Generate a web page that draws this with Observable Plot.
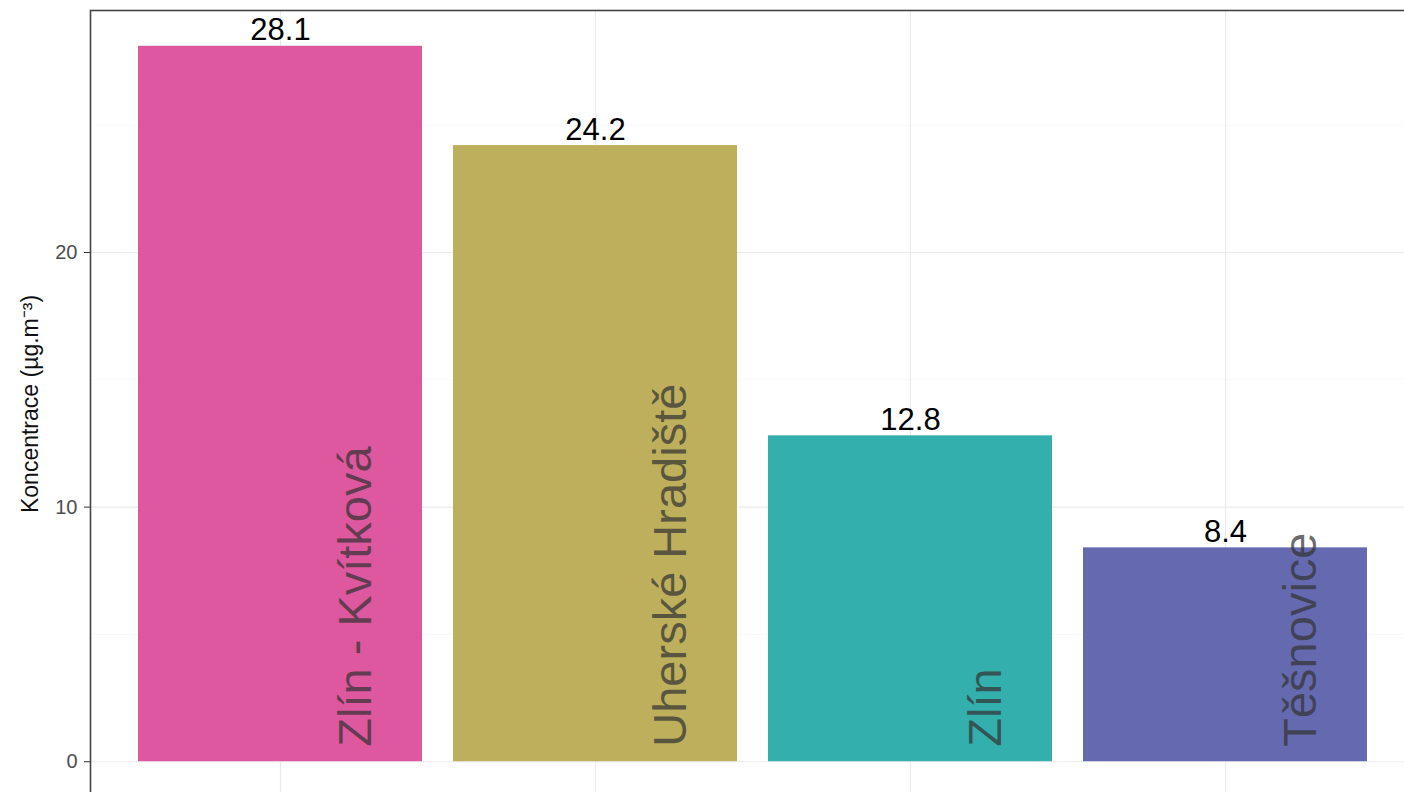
<!DOCTYPE html>
<html>
<head>
<meta charset="utf-8">
<script src="https://cdn.jsdelivr.net/npm/d3@7"></script>
<script src="https://cdn.jsdelivr.net/npm/@observablehq/plot@0.6"></script>
<style>
  html, body { margin: 0; padding: 0; background: #fff; overflow: hidden; }
  #chart svg { display: block; max-width: none !important; }
</style>
</head>
<body>
<div id="chart"></div>
<script>
const stations = ["Zlín - Kvítková", "Uherské Hradiště", "Zlín", "Těšnovice"];
const values = [28.1, 24.2, 12.8, 8.4];
const palette = ["#DD589E", "#BDAF5B", "#33AFAE", "#6569AF"];
const yTicks = [0, 10, 20];
const yMinor = [5, 15, 25];
const yLabel = "Koncentrace (µg.m⁻³)";

const data = stations.map((s, i) => ({station: s, value: values[i]}));
const yMax = d3.max(values);
const yDomain = [-0.05 * yMax, yMax * 1.05];

const chart = Plot.plot({
  width: 1414,
  height: 830,
  marginLeft: 90,
  marginRight: 0,
  marginTop: 10,
  marginBottom: 33,
  style: {fontFamily: "'Liberation Sans', Arial, sans-serif", background: "#fff", maxWidth: "none"},
  x: {type: "band", domain: stations, paddingInner: 0.1, paddingOuter: 0.145, axis: null},
  y: {domain: yDomain, axis: null},
  color: {domain: stations, range: palette},
  marks: [
    Plot.gridY(yMinor, {stroke: "#F3F3F3", strokeOpacity: 1, strokeWidth: 0.7}),
    Plot.gridY(yTicks, {stroke: "#EBEBEB", strokeOpacity: 1, strokeWidth: 1.2}),
    Plot.gridX(stations, {stroke: "#EBEBEB", strokeOpacity: 1, strokeWidth: 1.2}),
    Plot.barY(data, {x: "station", y: "value", fill: "station"}),
    Plot.text(data, {x: "station", y: "value", text: d => d.value.toFixed(1),
      dy: -6, lineAnchor: "bottom", fontSize: 31, fill: "#000"}),
    Plot.text(data, {x: "station", y: () => 0, text: "station", rotate: -90,
      textAnchor: "start", lineAnchor: "bottom", dx: 90, dy: -15,
      fontSize: 47, fill: "#333", fillOpacity: 0.72}),
    Plot.frame({stroke: "#444", strokeWidth: 1.6}),
    Plot.axisY(yTicks, {tickSize: 6, tickPadding: 7, stroke: "#333", fill: "#4D4D4D",
      fontSize: 20, label: null}),
    Plot.text([yLabel], {frameAnchor: "left", rotate: -90, dx: -53, textAnchor: "middle",
      lineAnchor: "bottom", fontSize: 23, fill: "#111"})
  ]
});
document.getElementById("chart").appendChild(chart);
</script>
</body>
</html>
